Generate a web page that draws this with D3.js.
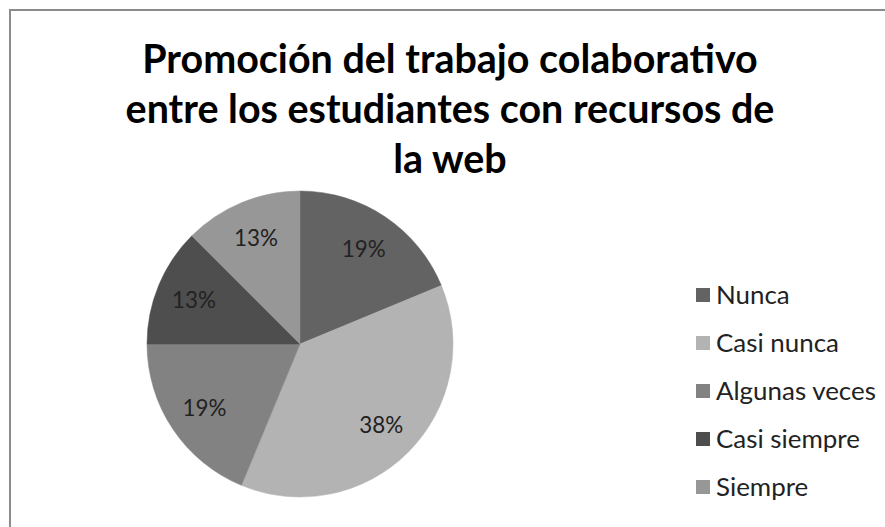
<!DOCTYPE html>
<html>
<head>
<meta charset="utf-8">
<script src="https://cdn.jsdelivr.net/npm/d3@7"></script>
<style>
  html, body { margin: 0; padding: 0; background: #fff; overflow: hidden; }
  svg { display: block; }
</style>
</head>
<body>
<svg id="chart" width="885" height="527"></svg>
<script>
// data (counts out of 16 -> 19 / 38 / 19 / 13 / 13 %)
const categories = ['Nunca', 'Casi nunca', 'Algunas veces', 'Casi siempre', 'Siempre']
const counts = [3, 6, 3, 2, 2]
const colors = ['#636363', '#b3b3b3', '#828282', '#4e4e4e', '#979797']
const titleLines = ['Promoción del trabajo colaborativo', 'entre los estudiantes con recursos de', 'la web']

const svg = d3.select('#chart')
const font = 'Lato, "Open Sans", sans-serif'

// outer frame (right and bottom edges fall outside the picture)
svg.append('rect')
	.attr('x', 10).attr('y', 10)
	.attr('width', 900).attr('height', 600)
	.attr('fill', '#fff')
	.attr('stroke', '#8c8c8c')
	.attr('stroke-width', 2)

// fit a text to a target width by scaling its font size
function fitSize (sel, target) {
	let w = sel.node().getComputedTextLength()
	let s = parseFloat(sel.attr('font-size'))
	return s * target / w
}

// title
let title = svg.append('g')
let tl = title.selectAll('text')
	.data(titleLines)
	.enter().append('text')
	.attr('x', 450)
	.attr('y', (d, i) => 73 + i * 50)
	.attr('text-anchor', 'middle')
	.attr('font-family', font)
	.attr('font-weight', 'bold')
	.attr('font-size', 36)
	.attr('fill', '#000')
	.text(d => d)
let tsize = fitSize(tl.filter((d, i) => i == 1), 649)
tl.attr('font-size', tsize)

// pie
const cx = 300, cy = 344, r = 153
const total = d3.sum(counts)
const pie = d3.pie().sort(null).value(d => d)
const arc = d3.arc().innerRadius(0).outerRadius(r)
const labelArc = d3.arc().innerRadius(r * 0.75).outerRadius(r * 0.75)
const pct = d3.format('.0%')

let g = svg.append('g').attr('transform', 'translate(' + cx + ',' + cy + ')')
let slices = pie(counts)

g.selectAll('path.slice')
	.data(slices)
	.enter().append('path')
	.attr('class', 'slice')
	.attr('d', arc)
	.attr('fill', (d, i) => colors[i])
	.attr('stroke', (d, i) => colors[i])
	.attr('stroke-width', 0.5)

let pl = g.selectAll('text.lbl')
	.data(slices)
	.enter().append('text')
	.attr('class', 'lbl')
	.attr('transform', d => 'translate(' + labelArc.centroid(d) + ')')
	.attr('text-anchor', 'middle')
	.attr('dy', '0.36em')
	.attr('font-family', font)
	.attr('font-size', 20)
	.attr('fill', '#222')
	.text(d => pct(Math.round(d.value / total * 100) / 100))
let psize = fitSize(pl.filter((d, i) => i == 1), 44)
pl.attr('font-size', psize)

// legend
let legend = svg.append('g').attr('transform', 'translate(696,0)')
let rows = legend.selectAll('g')
	.data(categories)
	.enter().append('g')
	.attr('transform', (d, i) => 'translate(0,' + (295 + i * 48) + ')')

rows.append('rect')
	.attr('x', 0).attr('y', -7)
	.attr('width', 14).attr('height', 14)
	.attr('fill', (d, i) => colors[i])

let lt = rows.append('text')
	.attr('x', 20)
	.attr('dy', '0.36em')
	.attr('font-family', font)
	.attr('font-size', 20)
	.attr('fill', '#222')
	.text(d => d)
let lsize = fitSize(lt.filter((d, i) => i == 2), 160)
lt.attr('font-size', lsize)
</script>
</body>
</html>
